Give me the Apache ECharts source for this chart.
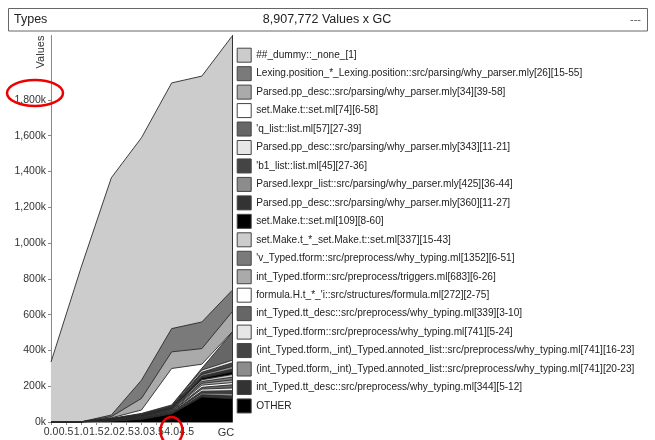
<!DOCTYPE html>
<html>
<head>
<meta charset="utf-8">
<script src="https://cdn.jsdelivr.net/npm/echarts@6/dist/echarts.min.js"></script>
<style>
  html, body { margin: 0; padding: 0; background: #fff; }
  #chart { width: 655px; height: 440px; }
</style>
</head>
<body>
<div id="chart"></div>
<script>
// GC steps (x axis)
const gc = [0, 1, 2, 3, 4, 5, 6];
const xTickLabels = [0, 0.5, 1, 1.5, 2, 2.5, 3, 3.5, 4, 4.5];
const yTickLabels = [0, 200000, 400000, 600000, 800000, 1000000, 1200000, 1400000, 1600000, 1800000];

// Legend names (top of stack first)
const names = [
  "##_dummy::_none_[1]",
  "Lexing.position_*_Lexing.position::src/parsing/why_parser.mly[26][15-55]",
  "Parsed.pp_desc::src/parsing/why_parser.mly[34][39-58]",
  "set.Make.t::set.ml[74][6-58]",
  "'q_list::list.ml[57][27-39]",
  "Parsed.pp_desc::src/parsing/why_parser.mly[343][11-21]",
  "'b1_list::list.ml[45][27-36]",
  "Parsed.lexpr_list::src/parsing/why_parser.mly[425][36-44]",
  "Parsed.pp_desc::src/parsing/why_parser.mly[360][11-27]",
  "set.Make.t::set.ml[109][8-60]",
  "set.Make.t_*_set.Make.t::set.ml[337][15-43]",
  "'v_Typed.tform::src/preprocess/why_typing.ml[1352][6-51]",
  "int_Typed.tform::src/preprocess/triggers.ml[683][6-26]",
  "formula.H.t_*_'i::src/structures/formula.ml[272][2-75]",
  "int_Typed.tt_desc::src/preprocess/why_typing.ml[339][3-10]",
  "int_Typed.tform::src/preprocess/why_typing.ml[741][5-24]",
  "(int_Typed.tform,_int)_Typed.annoted_list::src/preprocess/why_typing.ml[741][16-23]",
  "(int_Typed.tform,_int)_Typed.annoted_list::src/preprocess/why_typing.ml[741][20-23]",
  "int_Typed.tt_desc::src/preprocess/why_typing.ml[344][5-12]",
  "OTHER"
];
const colors = [
  "#cccccc", "#7a7a7a", "#aaaaaa", "#ffffff", "#666666",
  "#e6e6e6", "#444444", "#8c8c8c", "#333333", "#000000",
  "#cccccc", "#7a7a7a", "#aaaaaa", "#ffffff", "#666666",
  "#e6e6e6", "#444444", "#8c8c8c", "#333333", "#000000"
];

// Values in thousands, per GC step
const dummy      = [335, 864, 1326, 1355, 1373, 1374, 1421];
const lexing     = [0, 0, 9, 102, 130, 149, 120];
const pp34       = [0, 0, 7, 65, 93, 87, 112];
const setMake74  = [0, 0, 3, 19, 204, 23, 3];
const qList      = [0, 0, 1, 3, 5, 10, 155];
const pp343      = [0, 0, 1, 3, 4, 12, 15];
const b1List     = [0, 0, 1, 2, 3, 12, 20];
const lexprList  = [0, 0, 1, 2, 3, 10, 15];
const pp360      = [0, 0, 1, 2, 3, 10, 15];
const setMake109 = [0, 0, 1, 2, 3, 10, 15];
const setMakeStar= [0, 0, 1, 2, 3, 10, 15];
const vTyped     = [0, 0, 1, 2, 3, 10, 15];
const triggers   = [0, 0, 1, 2, 3, 10, 15];
const formula    = [0, 0, 1, 3, 4, 12, 12];
const ttDesc339  = [0, 0, 1, 2, 3, 10, 18];
const tform741   = [0, 0, 1, 2, 4, 12, 15];
const annot16    = [0, 0, 1, 2, 3, 10, 15];
const annot20    = [0, 0, 1, 2, 3, 10, 15];
const ttDesc344  = [0, 0, 1, 2, 3, 12, 15];
const other      = [0, 1, 5, 15, 45, 140, 130];

const valueLists = [dummy, lexing, pp34, setMake74, qList, pp343, b1List, lexprList,
  pp360, setMake109, setMakeStar, vTyped, triggers, formula, ttDesc339, tform741,
  annot16, annot20, ttDesc344, other];

const FONT = "Liberation Sans, Arial, Helvetica, sans-serif";

// Stack top of each layer = its value plus every layer below it (later in the list).
// Layers are painted from the top of the stack down, each filled to zero.
const series = names.map((name, i) => {
  const data = gc.map((g, j) => {
    let s = 0;
    for (let k = i; k < valueLists.length; k++) s += valueLists[k][j];
    return [g, s * 1000];
  });
  return {
    name: name,
    type: 'line',
    symbol: 'none',
    silent: true,
    data: data,
    itemStyle: { color: colors[i] },
    lineStyle: { color: '#2a2a2a', width: 0.9 },
    areaStyle: { color: colors[i], opacity: 1, origin: 'start' }
  };
});

const chart = echarts.init(document.getElementById('chart'), null, { renderer: 'canvas' });
chart.setOption({
  animation: false,
  backgroundColor: '#ffffff',
  textStyle: { fontFamily: FONT },
  grid: { left: 51, right: 423, top: 35.5, bottom: 18, containLabel: false },
  xAxis: {
    type: 'value',
    min: 0, max: 6, interval: 0.5,
    axisLine: { show: true, lineStyle: { color: '#888', width: 1 } },
    axisTick: { show: true, length: 3, lineStyle: { color: '#888' }, customValues: xTickLabels },
    axisLabel: {
      show: true, fontSize: 10.5, color: '#333', margin: 5, fontFamily: FONT,
      showMinLabel: true, showMaxLabel: true, hideOverlap: false,
      customValues: xTickLabels,
      formatter: v => v.toFixed(1)
    },
    splitLine: { show: false }
  },
  yAxis: [{
    type: 'value',
    min: 0, max: 2160000, interval: 200000,
    axisLine: { show: true, lineStyle: { color: '#888', width: 1 } },
    axisTick: { show: true, length: 3, lineStyle: { color: '#888' }, customValues: yTickLabels },
    axisLabel: {
      show: true, fontSize: 10.5, color: '#333', margin: 5, fontFamily: FONT,
      padding: [0, 0, 5, 0],
      showMinLabel: true,
      customValues: yTickLabels,
      formatter: v => (v / 1000).toLocaleString('en-US') + 'k'
    },
    splitLine: { show: false }
  }, {
    type: 'value', position: 'right',
    min: 0, max: 2160000,
    axisLine: { show: true, lineStyle: { color: '#333', width: 1 } },
    axisTick: { show: false }, axisLabel: { show: false }, splitLine: { show: false }
  }],
  legend: {
    orient: 'vertical',
    left: 236.7, top: 47.7,
    padding: 0,
    icon: 'rect',
    itemWidth: 14, itemHeight: 14, itemGap: 3.46,
    selectedMode: false,
    data: names,
    itemStyle: { borderColor: '#444', borderWidth: 1 },
    textStyle: { fontSize: 10.1, lineHeight: 14, color: '#222', fontFamily: FONT }
  },
  graphic: [
    { type: 'rect', shape: { x: 8.5, y: 8.5, width: 639, height: 22.5 },
      style: { fill: '#fff', stroke: '#666', lineWidth: 1 }, z: 10 },
    { type: 'text', left: 14, top: 13, z: 11,
      style: { text: 'Types', fontSize: 12.5, fill: '#222', fontFamily: FONT } },
    { type: 'text', x: 327, y: 20, z: 11,
      style: { text: '8,907,772 Values x GC', fontSize: 12.5, fill: '#222', fontFamily: FONT,
               textAlign: 'center', textVerticalAlign: 'middle' } },
    { type: 'text', x: 641, y: 20, z: 11,
      style: { text: '---', fontSize: 11, fill: '#555', fontFamily: FONT,
               textAlign: 'right', textVerticalAlign: 'middle' } },
    { type: 'text', x: 41, y: 52, rotation: Math.PI / 2, z: 11,
      style: { text: 'Values', fontSize: 11, fill: '#333', fontFamily: FONT,
               textAlign: 'center', textVerticalAlign: 'middle' } },
    { type: 'text', x: 226, y: 433, z: 11,
      style: { text: 'GC', fontSize: 11, fill: '#333', fontFamily: FONT,
               textAlign: 'center', textVerticalAlign: 'middle' } },
    { type: 'ellipse', shape: { cx: 35, cy: 93, rx: 28, ry: 13 },
      style: { fill: 'none', stroke: '#ee0000', lineWidth: 2.5 }, z: 20 },
    { type: 'ellipse', shape: { cx: 171.5, cy: 431, rx: 11, ry: 14 },
      style: { fill: 'none', stroke: '#ee0000', lineWidth: 2.5 }, z: 20 }
  ],
  series: series
});
</script>
</body>
</html>
